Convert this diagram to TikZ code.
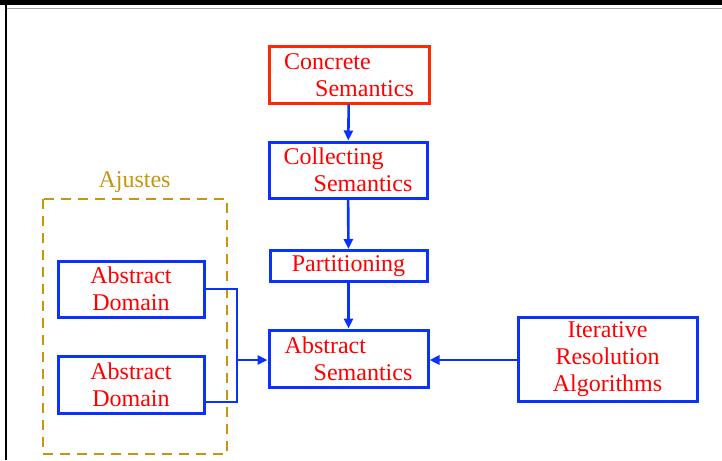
\documentclass[tikz,border=0pt]{standalone}
\usepackage{fontspec}
\setmainfont{Liberation Serif}
\usetikzlibrary{arrows.meta}
\definecolor{bblue}{RGB}{10,50,255}
\definecolor{rred}{RGB}{255,0,0}
\definecolor{bred}{RGB}{255,40,0}
\definecolor{gold}{RGB}{200,150,10}
\begin{document}
\begin{tikzpicture}[x=1pt,y=-1pt,
  box/.style={draw=bblue, line width=3pt, text=rred, inner sep=0pt,
    font=\fontsize{24}{27}\selectfont},
  wire/.style={draw=bblue, line width=2.6pt},
  arr/.style={wire, -{Triangle[length=10pt,width=9pt]}}]
\useasboundingbox (0,0) rectangle (722,460);
% slide frame
\fill[black] (0,0) rectangle (722,5);
\draw[black!35, line width=1.5pt] (7,8.5) -- (722,8.5);
\fill[black] (4.5,0) rectangle (7,460);
% nodes
\node[box, draw=bred, align=left, minimum width=160, minimum height=56] (conc) at (349,75)
  {Concrete\\\hspace*{31pt}Semantics};
\node[box, align=left, minimum width=158, minimum height=56] (coll) at (348,170)
  {Collecting\\\hspace*{30pt}Semantics};
\node[box, align=center, minimum width=157, minimum height=31] (part) at (348.5,266)
  {Partitioning};
\node[box, align=left, minimum width=159, minimum height=57] (abss) at (348.5,358.5)
  {Abstract\\\hspace*{29pt}Semantics};
\node[box, align=center, minimum width=179, minimum height=84] (iter) at (607.5,359)
  {Iterative\\Resolution\\Algorithms};
\node[box, align=center, minimum width=146, minimum height=56] (ad1) at (131,289)
  {Abstract\\Domain};
\node[box, align=center, minimum width=146, minimum height=57] (ad2) at (131,384.5)
  {Abstract\\Domain};
% Ajustes group
\draw[gold, line width=2.8pt, dash pattern=on 10pt off 7pt] (43,199) rectangle (227,454);
\node[text=gold, font=\fontsize{24}{27}\selectfont, inner sep=0pt] (aj) at (134.5,182) {Ajustes};
% connectors
\coordinate (jb) at (237,402);
\coordinate (jm) at (237,360);
\draw[arr] (conc) -- (coll);
\draw[arr] (coll) -- (part);
\draw[arr] (part) -- (abss);
\draw[arr] (iter.west |- jm) -- (abss.east |- jm);
\draw[wire] (ad1.east) -| (jb) -- (ad2.east |- jb);
\draw[arr] (jm) -- (abss.west |- jm);
\end{tikzpicture}
\end{document}
